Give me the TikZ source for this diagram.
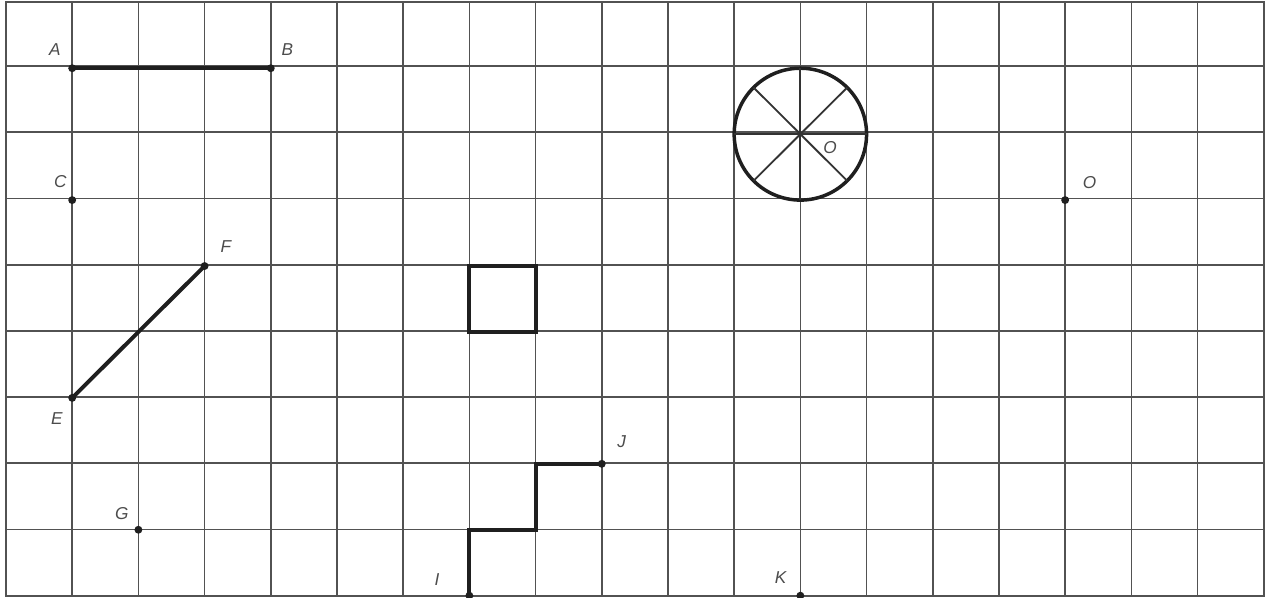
\documentclass[tikz,border=0pt]{standalone}
\usepackage{fontspec}
\setmainfont{Liberation Sans}
\usetikzlibrary{calc}
\begin{document}
\begin{tikzpicture}[x=1cm,y=0.996cm,
  gridline/.style={draw=black!68,line width=0.7pt},
  seg/.style={draw=black!88,line width=1.7pt},
  thin/.style={draw=black!80,line width=0.8pt},
  dot/.style={circle,fill=black!88,inner sep=0pt,minimum size=3.4pt},
  lbl/.style={font=\fontsize{7.4}{8}\selectfont\itshape,text=black!70,inner sep=0pt}]
\useasboundingbox (-0.0906,-0.03) rectangle (19.019,9.035);
% grid
\draw[gridline] (0,0) grid (19,9);
\draw[gridline] (0,0) rectangle (19,9);
% points
\coordinate (A) at (1,8);
\coordinate (B) at (4,8);
\coordinate (C) at (1,6);
\coordinate (O2) at (16,6);
\coordinate (E) at (1,3);
\coordinate (F) at (3,5);
\coordinate (G) at (2,1);
\coordinate (I) at (7,0);
\coordinate (I1) at (7,1);
\coordinate (I2) at (8,1);
\coordinate (I3) at (8,2);
\coordinate (J) at (9,2);
\coordinate (K) at (12,0);
\coordinate (Oc) at (12,7);
\coordinate (S1) at (7,4);
\coordinate (S2) at (8,5);
% segments
\draw[seg] (A) -- (B);
\draw[seg] (E) -- (F);
\draw[seg] (S1) rectangle (S2);
\draw[seg,line join=miter] (I) -- (I1) -- (I2) -- (I3) -- (J);
% circle
\draw[seg,line width=1.5pt] (Oc) circle (1);
\draw[thin] (Oc) ++(-1,0) -- ++(2,0);
\draw[thin] (Oc) ++(0,-1) -- ++(0,2);
\draw[thin] (Oc) ++(135:1) -- ++(-45:2);
\draw[thin] (Oc) ++(45:1) -- ++(225:2);
% dots
\foreach \p in {A,B,C,O2,E,F,G,J,K,I}
  \node[dot] (d\p) at (\p) {};
% labels
\node[lbl] (lA) at ($(A)+(-0.26,0.28)$) {A};
\node[lbl] (lB) at ($(B)+(0.25,0.28)$) {B};
\node[lbl] (lC) at ($(C)+(-0.18,0.28)$) {C};
\node[lbl] (lO2) at ($(O2)+(0.37,0.27)$) {O};
\node[lbl] (lF) at ($(F)+(0.32,0.30)$) {F};
\node[lbl] (lE) at ($(E)+(-0.23,-0.31)$) {E};
\node[lbl] (lG) at ($(G)+(-0.25,0.25)$) {G};
\node[lbl] (lJ) at ($(J)+(0.3,0.34)$) {J};
\node[lbl] (lI) at ($(I)+(-0.49,0.24)$) {I};
\node[lbl] (lK) at ($(K)+(-0.3,0.27)$) {K};
\node[lbl] (lOc) at ($(Oc)+(0.45,-0.2)$) {O};
\end{tikzpicture}
\end{document}
